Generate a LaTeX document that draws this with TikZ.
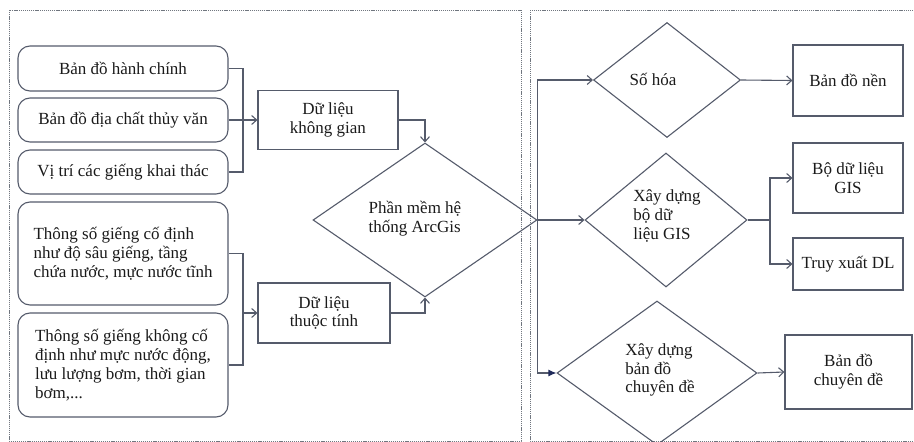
\documentclass[tikz,border=0pt]{standalone}
\usepackage{fontspec}
\setmainfont{Liberation Serif}
\usetikzlibrary{shapes.geometric,arrows.meta}
\definecolor{ln}{HTML}{555B6B}
\definecolor{frm}{HTML}{70767F}
\definecolor{txt}{HTML}{1A1A1A}
\definecolor{navy}{HTML}{1F2A5A}
\begin{document}
\begin{tikzpicture}[x=1pt,y=-1pt,
  every node/.style={font=\fontsize{17}{18.8}\selectfont, text=txt},
  rbox/.style={draw=ln, line width=1.1pt, rounded corners=12pt, inner sep=0pt, align=left},
  sbox/.style={draw=ln, line width=1.1pt, inner sep=0pt, align=center},
  dia/.style={draw=ln, line width=1.1pt, diamond, inner sep=0pt},
  lbl/.style={inner sep=0pt, align=left},
  con/.style={draw=ln, line width=1.1pt},
  arr/.style={con, -{Straight Barb[length=5pt,width=9pt]}},
  farr/.style={con, -{Latex[length=8pt,width=7pt,color=navy]}},
  frame/.style={draw=frm, line width=0.8pt, dash pattern=on 1.2pt off 0.9pt}
]
\useasboundingbox (0,0) rectangle (914,442);
% frames
\draw[frame] (9,10) rectangle (521,441);
\draw[frame] (530,10) rectangle (930,441);

% left column
\node[rbox, minimum width=210pt, minimum height=45pt] (b1) at (123,68.5) {Bản đồ hành chính};
\node[rbox, minimum width=210pt, minimum height=44pt] (b2) at (123,120) {Bản đồ địa chất thủy văn};
\node[rbox, minimum width=210pt, minimum height=44pt] (b3) at (123,172) {Vị trí các giếng khai thác};
\node[rbox, minimum width=210pt, minimum height=103pt] (b4) at (123,253.5) {Thông số giếng cố định\\như độ sâu giếng, tầng\\chứa nước, mực nước tĩnh};
\node[rbox, minimum width=210pt, minimum height=104pt] (b5) at (123,365) {Thông số giếng không cố\\định như mực nước động,\\lưu lượng bơm, thời gian\\bơm,...};

% data boxes
\node[sbox, minimum width=140pt, minimum height=59pt] (dlkg) at (328,120) {Dữ liệu\\không gian};
\node[sbox, minimum width=132pt, minimum height=60pt] (dltt) at (324,313) {Dữ liệu\\thuộc tính};

% main diamond
\node[dia, minimum width=224pt, minimum height=154pt] (pm) at (425,220) {};
\node[lbl] (pmt) at (415,219) {Phần mềm hệ\\thống ArcGis};

% right diamonds
\node[dia, minimum width=147pt, minimum height=115pt] (sh) at (667,80) {};
\node[lbl] (sht) at (653,79) {Số hóa};
\node[dia, minimum width=162pt, minimum height=134pt] (xd) at (666,220) {};
\node[lbl] (xdt) at (667,216) {Xây dựng\\bộ dữ\\liệu GIS};
\node[dia, minimum width=200pt, minimum height=144pt] (cd) at (657,373) {};
\node[lbl] (cdt) at (660,370) {Xây dựng\\bản đồ\\chuyên đề};

% right boxes
\node[sbox, minimum width=110pt, minimum height=71pt] (bdn) at (848,80.5) {Bản đồ nền};
\node[sbox, minimum width=110pt, minimum height=70pt] (bgis) at (848,178) {Bộ dữ liệu\\GIS};
\node[sbox, minimum width=110pt, minimum height=52pt] (tx) at (848,264) {Truy xuất DL};
\node[sbox, minimum width=127pt, minimum height=74pt] (bcd) at (848.5,372) {Bản đồ\\chuyên đề};

% junctions
\coordinate (j1) at (243,120);
\coordinate (j2) at (243,313);
\coordinate (j3) at (770,220);

% connectors left
\draw[con] (b1.east) -| (j1) |- (b3.east);
\draw[arr] (b2.east) -- (dlkg.west);
\draw[con] (b4.east) -| (j2) |- (b5.east);
\draw[arr] (j2) -- (dltt.west);
\draw[arr] (dlkg.east) -| (pm.north);
\draw[arr] (dltt.east) -| (pm.south);

% connectors right
\draw[arr] (pm.east) |- (sh.west);
\draw[arr] (pm.east) -- (xd.west);
\draw[farr] (pm.east) |- (cd.west);
\draw[arr] (sh.east) -- (bdn.west);
\draw[con] (xd.east) -- (j3);
\draw[arr] (j3) |- (bgis.west);
\draw[arr] (j3) |- (tx.west);
\draw[arr] (cd.east) -- (bcd.west);
\end{tikzpicture}
\end{document}
